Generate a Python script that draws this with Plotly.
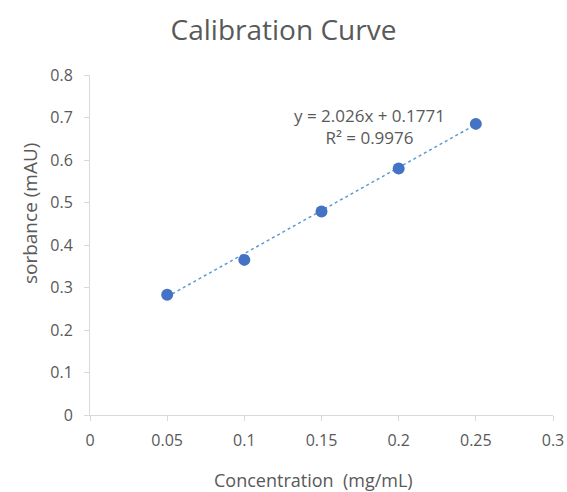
import plotly.graph_objects as go

concentration = [0.05, 0.10, 0.15, 0.20, 0.25]
absorbance = [0.283, 0.365, 0.479, 0.580, 0.685]
slope = 2.026
intercept = 0.1771
r_squared = 0.9976
x_ticks = [0, 0.05, 0.1, 0.15, 0.2, 0.25, 0.3]
x_tick_labels = ["0", "0.05", "0.1", "0.15", "0.2", "0.25", "0.3"]
y_ticks = [0, 0.1, 0.2, 0.3, 0.4, 0.5, 0.6, 0.7, 0.8]
y_tick_labels = ["0", "0.1", "0.2", "0.3", "0.4", "0.5", "0.6", "0.7", "0.8"]

trend_x = [concentration[0], concentration[-1]]
trend_y = [slope * v + intercept for v in trend_x]

FONT = "Open Sans, Liberation Sans, sans-serif"
GRAY = "#595959"
BLUE = "#4472C4"
AXIS = "#D9D9D9"

fig = go.Figure()
fig.add_trace(go.Scatter(x=trend_x, y=trend_y, mode="lines",
                         line=dict(color="#5B9BD5", width=1.5, dash="dot"),
                         showlegend=False, hoverinfo="skip"))
fig.add_trace(go.Scatter(x=concentration, y=absorbance, mode="markers",
                         marker=dict(color=BLUE, size=12),
                         showlegend=False))

fig.add_annotation(x=0.181, y=0.678, xref="x", yref="y",
                   text=f"y = {slope}x + {intercept}<br>R² = {r_squared}",
                   showarrow=False, align="center",
                   font=dict(family=FONT, size=17, color=GRAY))
# axis titles
fig.add_annotation(x=0.5, y=0, xref="paper", yref="paper", xshift=-8, yshift=-65,
                   xanchor="center", yanchor="middle", showarrow=False,
                   text="Concentration  (mg/mL)",
                   font=dict(family=FONT, size=18, color=GRAY))
fig.add_annotation(x=0, y=0.591, xref="paper", yref="paper", xshift=-60,
                   xanchor="center", yanchor="middle", showarrow=False, textangle=-90,
                   text="sorbance (mAU)",
                   font=dict(family=FONT, size=19, color=GRAY))

fig.update_layout(
    width=567, height=492,
    paper_bgcolor="white", plot_bgcolor="white",
    margin=dict(l=90, r=14, t=75, b=77, autoexpand=False),
    title=dict(text="Calibration Curve", x=0.5, xanchor="center", y=0.939, yanchor="middle",
               font=dict(family=FONT, size=28, color=GRAY)),
    font=dict(family=FONT, color=GRAY),
)
fig.update_xaxes(range=[0, 0.3], tickvals=x_ticks, ticktext=x_tick_labels,
                 showgrid=False, zeroline=False, showline=True, linecolor=AXIS,
                 ticks="outside", ticklen=5, tickcolor=AXIS, ticklabelstandoff=6,
                 automargin=False,
                 tickfont=dict(family=FONT, size=16, color=GRAY))
fig.update_yaxes(range=[0, 0.8], tickvals=y_ticks, ticktext=y_tick_labels,
                 showgrid=False, zeroline=False, showline=True, linecolor=AXIS,
                 ticks="outside", ticklen=5, tickcolor=AXIS, ticklabelstandoff=8,
                 automargin=False,
                 tickfont=dict(family=FONT, size=16, color=GRAY))

fig.write_html(
    "out.html",
    config={"displayModeBar": False},
    post_script=(
        "document.body.style.margin='0';"
        "document.body.style.overflow='hidden';"
        "document.documentElement.style.overflow='hidden';"
    ),
)
